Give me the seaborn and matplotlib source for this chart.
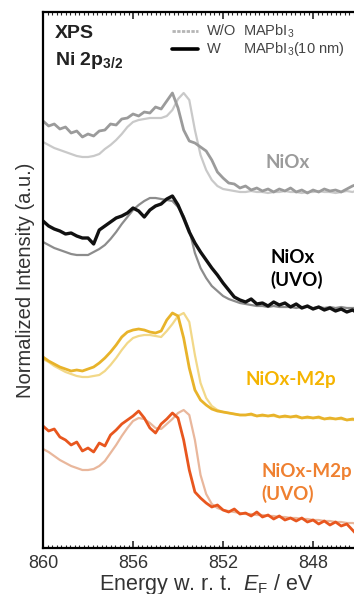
import numpy as np
import matplotlib
matplotlib.use('Agg')
import matplotlib.pyplot as plt
from matplotlib.lines import Line2D
from matplotlib.ticker import MultipleLocator
import seaborn as sns

# binding energy scan grid (eV), 0.25 eV step
energy = np.linspace(860, 846, 57)

# normalized intensities (a.u., offset stacked)
niox_wo = [406, 403, 400, 398, 396, 394, 392, 391, 391, 392, 394, 399,
           403, 408, 414, 421, 426, 428, 429, 430, 430, 430, 432, 438,
           449, 455, 448, 418, 393, 378, 368, 362, 359, 358, 357, 356,
           356, 357, 356, 356, 355, 356, 356, 357, 356, 356, 355, 356,
           356, 357, 356, 356, 355, 356, 357, 356, 358]
niox_w = [427, 422, 424, 419, 421, 415, 417, 411, 414, 412, 417, 418,
          424, 423, 429, 430, 434, 432, 436, 435, 441, 439, 447, 455,
          440, 418, 407, 405, 401, 397, 388, 376, 370, 365, 364, 360,
          362, 358, 360, 357, 359, 356, 359, 357, 360, 356, 358, 355,
          358, 356, 359, 357, 358, 356, 359, 362, 364]
uvo_wo = [306, 303, 300, 298, 296, 294, 293, 293, 293, 296, 299, 303,
          309, 316, 324, 331, 338, 343, 347, 350, 350, 349, 348, 347,
          341, 332, 318, 295, 280, 270, 262, 257, 252, 249, 247, 245,
          244, 243, 242, 242, 241, 242, 241, 241, 241, 240, 241, 241,
          240, 241, 240, 241, 240, 241, 240, 240, 240]
uvo_w = [327, 322, 319, 317, 314, 315, 312, 310, 310, 304, 318, 322,
         326, 330, 332, 335, 340, 337, 331, 338, 342, 344, 349, 352,
         343, 330, 316, 305, 296, 288, 280, 273, 265, 258, 251, 248,
         246, 249, 244, 245, 242, 246, 243, 245, 241, 244, 240, 242,
         239, 241, 238, 240, 237, 239, 236, 238, 235]
m2p_wo = [189, 186, 182, 179, 176, 174, 172, 171, 171, 172, 173, 177,
          183, 190, 198, 205, 210, 212, 213, 213, 212, 211, 217, 224,
          232, 235, 226, 193, 165, 150, 142, 138, 136, 135, 134, 133,
          133, 133, 132, 132, 132, 132, 131, 131, 131, 131, 130, 130,
          130, 130, 129, 129, 129, 129, 128, 128, 128]
m2p_w = [191, 187, 184, 181, 179, 177, 178, 177, 179, 181, 185, 190,
         196, 203, 211, 216, 218, 219, 218, 216, 215, 217, 228, 235,
         232, 210, 180, 158, 148, 143, 139, 137, 136, 135, 134, 133,
         133, 134, 132, 133, 132, 133, 131, 132, 131, 132, 130, 131,
         130, 131, 129, 130, 129, 130, 128, 129, 128]
m2p_uvo_wo = [99, 96, 92, 88, 85, 82, 80, 78, 78, 79, 82, 87,
              95, 103, 112, 120, 127, 130, 129, 125, 120, 119, 124, 129,
              135, 138, 133, 108, 73, 54, 44, 40, 38, 37, 36, 35,
              34, 34, 33, 33, 32, 32, 31, 31, 30, 30, 29, 29,
              28, 28, 27, 27, 26, 26, 25, 25, 24]
m2p_uvo_w = [122, 117, 119, 111, 108, 103, 106, 97, 100, 96, 105, 102,
             113, 118, 124, 128, 132, 137, 130, 120, 115, 124, 129, 135,
             130, 108, 78, 56, 50, 45, 41, 43, 38, 36, 39, 34,
             35, 32, 36, 31, 33, 29, 32, 28, 30, 27, 30, 26,
             28, 24, 27, 23, 26, 22, 24, 18, 12]

curves = [
    (niox_wo, '#c9c9c9', 1.6),
    (niox_w, '#9b9b9b', 2.0),
    (uvo_wo, '#8c8c8c', 1.6),
    (uvo_w, '#111111', 2.4),
    (m2p_wo, '#f2d888', 1.6),
    (m2p_w, '#e8b32a', 2.0),
    (m2p_uvo_wo, '#e9b79c', 1.6),
    (m2p_uvo_w, '#e8561e', 2.0),
]

sns.set_theme(style='ticks')
plt.rcParams['font.family'] = ['Liberation Sans', 'DejaVu Sans']
plt.rcParams['mathtext.fontset'] = 'custom'
plt.rcParams['mathtext.rm'] = 'Liberation Sans'
plt.rcParams['mathtext.it'] = 'Liberation Sans:italic'
plt.rcParams['mathtext.bf'] = 'Liberation Sans:bold'

fig = plt.figure(figsize=(3.54, 5.94), dpi=100)
ax = fig.add_axes([43 / 354, 46 / 594, 327 / 354, 536 / 594])

for vals, col, lw in curves:
    sns.lineplot(x=energy, y=vals, color=col, lw=lw, ax=ax)

ax.set_xlim(860, 845.47)
ax.set_ylim(0, 536)
ax.set_yticks([])
ax.xaxis.set_major_locator(MultipleLocator(4))
ax.xaxis.set_minor_locator(MultipleLocator(0.2))
ax.tick_params(axis='x', which='both', direction='in', top=True, bottom=True,
               labelsize=13, labelcolor='#333333', pad=5)
ax.tick_params(axis='x', which='major', length=5, width=1.2)
ax.tick_params(axis='x', which='minor', length=2.5, width=0.8)
for s in ['left', 'bottom', 'top']:
    ax.spines[s].set_linewidth(1.6)
    ax.spines[s].set_color('black')
ax.spines['right'].set_visible(False)

ax.set_xlabel(r'Energy w. r. t.  $\it{E}_\mathrm{F}$ / eV', fontsize=15.5,
              color='#333333', labelpad=0)
ax.set_ylabel('Normalized Intensity (a.u.)', fontsize=14.5, color='#333333',
              labelpad=6)

ax.text(0.037, 0.96, 'XPS', transform=ax.transAxes, fontsize=14,
        fontweight='bold', va='center', color='#222222')
ax.text(0.037, 0.91, r'Ni 2p$_{\mathbf{3/2}}$', transform=ax.transAxes,
        fontsize=14, fontweight='bold', va='center', color='#222222')

# legend keys
ax.add_line(Line2D([0.3945, 0.475], [0.9645, 0.9645], transform=ax.transAxes,
                   color='#b5b5b5', lw=2, ls=(0, (1.2, 0.5))))
ax.add_line(Line2D([0.3945, 0.475], [0.931, 0.931], transform=ax.transAxes,
                   color='black', lw=2.6))
leg = dict(transform=ax.transAxes, fontsize=10.5, va='center',
           color='#444444')
ax.text(0.5, 0.9645, 'W/O', **leg)
ax.text(0.5, 0.931, 'W', **leg)
ax.text(0.612, 0.9645, r'MAPbI$_3$', **leg)
ax.text(0.612, 0.931, r'MAPbI$_3$(10 nm)', **leg)

lab = dict(fontsize=13.5, fontweight='bold', family=['Lato', 'DejaVu Sans'],
           linespacing=1.35)
ax.text(849.11, 385, 'NiOx', color='#9b9b9b', ha='center', va='center', **lab)
ax.text(849.91, 279, 'NiOx\n(UVO)', color='black', ha='left', va='center', **lab)
ax.text(851.02, 168, 'NiOx-M2p', color='#f5b400', ha='left', va='center', **lab)
ax.text(850.3, 65, 'NiOx-M2p\n(UVO)', color='#ef8030', ha='left',
        va='center', **lab)

fig.savefig('out.png', dpi=100)
